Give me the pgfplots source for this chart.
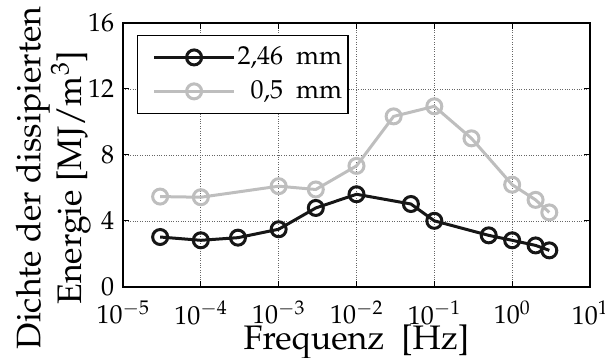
\documentclass[border=0pt]{standalone}
\usepackage[T1]{fontenc}
\usepackage{mathpazo}
\usepackage{pgfplots}
\pgfplotsset{compat=1.18}
\definecolor{lgray}{RGB}{190,190,190}
\definecolor{dblack}{RGB}{22,22,22}
\newcommand{\tickf}{\fontsize{26}{30}\selectfont}
\newcommand{\labf}{\fontsize{34}{36}\selectfont}
\begin{document}
\tickf
\begin{tikzpicture}
\begin{axis}[
  scale only axis, width=467pt, height=264pt,
  xmode=log, xmin=1e-5, xmax=10, ymin=0, ymax=16,
  ytick={0,4,8,12,16},
  xtick={1e-5,1e-4,1e-3,1e-2,1e-1,1,10},
  xminorticks=false,
  grid=major,
  major grid style={dotted, black!60, line width=0.8pt},
  tick align=inside, major tick length=6pt,
  axis line style={line width=1.2pt},
  every tick/.style={black, line width=1pt},
  tick label style={font=\tickf},
  xticklabel style={yshift=-5pt},
  label style={font=\labf},
  xlabel={Frequenz\ \ [Hz]},
  xlabel style={at={(axis description cs:0.5,-0.238)}, anchor=base},
  ylabel={Dichte der dissipierten\\Energie [MJ/m$^3$]},
  ylabel style={align=center, at={(ticklabel cs:0.413)}, yshift=-20pt},
  legend cell align=right,
  legend style={at={(0.03,0.955)}, anchor=north west, draw=black, line width=1.2pt,
    font=\tickf, inner xsep=4pt, inner ysep=9pt, row sep=8pt},
  legend image code/.code={\path (0pt,0pt); \draw[mark repeat=2,mark phase=2] plot coordinates {(11pt,0pt) (51pt,0pt) (91pt,0pt)};},
]
\addplot[dblack, line width=3pt, mark=o, mark size=7.5pt, mark options={line width=3pt}] coordinates {
 (3e-5,3.03) (1e-4,2.83) (3e-4,2.99) (1e-3,3.50) (3e-3,4.79) (1e-2,5.62)
 (5e-2,5.03) (1e-1,4.01) (5e-1,3.13) (1,2.83) (2,2.52) (3,2.22)
};
\addlegendentry{2,46~~mm}
\addplot[lgray, line width=3pt, mark=o, mark size=7.5pt, mark options={line width=3pt}] coordinates {
 (3e-5,5.48) (1e-4,5.44) (1e-3,6.11) (3e-3,5.91) (1e-2,7.34) (3e-2,10.34)
 (1e-1,10.95) (3e-1,9.01) (1,6.20) (2,5.28) (3,4.52)
};
\addlegendentry{0,5~~mm}
\end{axis}
\pgfresetboundingbox
\useasboundingbox ([xshift=-123pt,yshift=-71pt]current axis.south west) rectangle ([xshift=15pt,yshift=23pt]current axis.north east);
\end{tikzpicture}
\end{document}
